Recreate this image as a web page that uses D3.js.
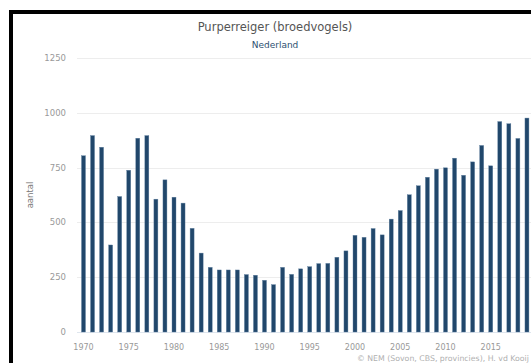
<!DOCTYPE html>
<html><head><meta charset="utf-8">
<script src="https://cdn.jsdelivr.net/npm/d3@7"></script>
<style>html,body{margin:0;padding:0;background:#fff;overflow:hidden}svg{display:block}</style>
</head><body>
<svg id="c" width="531" height="363"></svg>
<script>
const years = d3.range(1970, 2020);
const values = [804,896,843,397,618,738,884,896,606,694,
                615,588,473,360,295,283,283,283,262,259,
                236,216,295,263,288,298,312,313,341,370,
                441,432,472,443,515,554,626,667,706,743,
                749,793,715,776,851,758,960,950,883,976];
const yTicks = [0,250,500,750,1000,1250];
const xTickYears = [1970,1975,1980,1985,1990,1995,2000,2005,2010,2015];
const title = "Purperreiger (broedvogels)";
const subtitle = "Nederland";
const yTitle = "aantal";
const credit = "© NEM (Sovon, CBS, provincies), H. vd Kooij";

const svg = d3.select("#c");
const font = "'DejaVu Sans', Verdana, sans-serif";
svg.append("rect").attr("width",531).attr("height",363).attr("fill","#fff");

const step = 9.05;
const x = d3.scaleBand().domain(years).range([83.5 - step/2, 83.5 - step/2 + step*years.length]).paddingInner(0.56).paddingOuter(0.28);
const y = d3.scaleLinear().domain([0,1250]).range([332,58]);

// gridlines
svg.append("g").selectAll("line").data(yTicks).join("line")
  .attr("x1",77).attr("x2",560)
  .attr("y1",d=>Math.round(y(d))+0.5).attr("y2",d=>Math.round(y(d))+0.5)
  .attr("stroke",d=>d===0?"#dfe6ee":"#ededed").attr("stroke-width",1);

// y labels
svg.append("g").selectAll("text").data(yTicks).join("text")
  .attr("x",66).attr("y",d=>y(d)+3).attr("text-anchor","end")
  .attr("font-family",font).attr("font-size",8.5).attr("fill","#999").text(d=>d);

// bars
svg.append("g").selectAll("rect").data(years).join("rect")
  .attr("x",d=>x(d)).attr("width",x.bandwidth())
  .attr("y",(d,i)=>y(values[i])).attr("height",(d,i)=>y(0)-y(values[i]))
  .attr("fill","#21476b").attr("stroke","#5f7f9f").attr("stroke-width",0.4);

// x axis labels
svg.append("g").selectAll("text").data(xTickYears).join("text")
  .attr("x",d=>x(d)+x.bandwidth()/2).attr("y",350).attr("text-anchor","middle")
  .attr("font-family",font).attr("font-size",8).attr("fill","#999").text(d=>d);

// y title
svg.append("text").attr("transform","translate(33,195) rotate(-90)").attr("text-anchor","middle")
  .attr("font-family",font).attr("font-size",8.5).attr("fill","#777").text(yTitle);

// titles
svg.append("text").attr("x",275).attr("y",31).attr("text-anchor","middle")
  .attr("font-family",font).attr("font-size",11.5).attr("fill","#555").text(title);
svg.append("text").attr("x",275).attr("y",47.5).attr("text-anchor","middle")
  .attr("font-family",font).attr("font-size",9).attr("fill","#2d4f70").text(subtitle);

// credit
svg.append("text").attr("x",357).attr("y",361)
  .attr("font-family",font).attr("font-size",7.8).attr("fill","#b0b0b0").text(credit);

// black frame
svg.append("rect").attr("x",9).attr("y",10).attr("width",4).attr("height",360).attr("fill","#000");
svg.append("rect").attr("x",9).attr("y",10).attr("width",530).attr("height",4).attr("fill","#000");
</script>
</body></html>
